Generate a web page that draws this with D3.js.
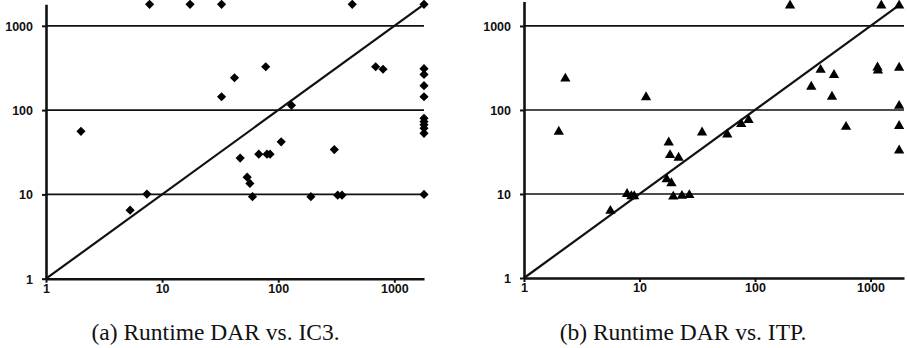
<!DOCTYPE html>
<html>
<head>
<meta charset="utf-8">
<script src="https://cdn.jsdelivr.net/npm/d3@7"></script>
<style>
  body { margin: 0; background: #fff; }
  .tick text { font-family: "Liberation Sans", Arial, sans-serif; font-weight: bold; font-size: 12.5px; }
  .caption { font-family: "Liberation Serif", "Times New Roman", serif; font-size: 23.5px; }
</style>
</head>
<body>
<svg id="chart" width="907" height="348"></svg>
<script>
// runtime pairs [DAR, other tool] in seconds
var ic3Points = [
  [2, 56], [5.3, 6.5], [7.4, 10.1], [7.8, 1800], [17.4, 1800], [32.5, 1800],
  [32.5, 144], [42, 242], [47, 27], [54, 16], [57, 13.5], [60, 9.4],
  [68, 30], [80, 30], [85, 30], [78, 327], [106, 42], [130, 114],
  [191, 9.4], [304, 34], [325, 9.8], [354, 9.8], [434, 1800], [690, 327],
  [799, 305], [1800, 1800], [1800, 310], [1800, 265], [1800, 195], [1800, 144],
  [1800, 80], [1800, 73], [1800, 67], [1800, 61], [1800, 53], [1800, 10]
];
var itpPoints = [
  [2, 55], [2.28, 236], [5.6, 6.3], [7.8, 10], [8.5, 9.4], [9, 9.4],
  [11.4, 142], [17.2, 15], [17.9, 41], [18.4, 29], [18.9, 13.4], [19.6, 9.3],
  [21.8, 27], [23.3, 9.5], [27, 9.7], [34.8, 54], [57.5, 51], [76, 68],
  [88, 76], [201, 1750], [307, 189], [370, 300], [464, 144], [483, 261],
  [614, 63], [1150, 320], [1160, 295], [1240, 1750], [1770, 1750], [1770, 319],
  [1770, 112], [1770, 64.5], [1770, 33]
];
var tickValues = [1, 10, 100, 1000];
var gridValues = [10, 100, 1000];
var captions = ["(a) Runtime DAR vs. IC3.", "(b) Runtime DAR vs. ITP."];

var svg = d3.select("#chart");

function drawPanel(opts) {
    var x = d3.scaleLog().domain([1, opts.max]).range([opts.left, opts.right]);
    var y = d3.scaleLog().domain([1, opts.max]).range([opts.bottom, opts.top]);
    var g = svg.append("g");

    // horizontal grid lines
    g.append("g")
        .selectAll("line")
        .data(gridValues)
        .join("line")
        .attr("x1", x(1))
        .attr("x2", opts.right)
        .attr("y1", d => y(d))
        .attr("y2", d => y(d))
        .attr("stroke", "#111")
        .attr("stroke-width", 1.7);

    // diagonal y = x
    g.append("line")
        .attr("x1", x(1))
        .attr("y1", y(1))
        .attr("x2", x(opts.diag))
        .attr("y2", y(opts.diag))
        .attr("stroke", "#111")
        .attr("stroke-width", 2.2);

    var xAxis = g.append("g")
        .attr("transform", `translate(0,${opts.bottom})`)
        .call(d3.axisBottom(x).tickValues(tickValues).tickFormat(d3.format("d"))
            .tickSize(4).tickSizeOuter(0).tickPadding(4));
    var yAxis = g.append("g")
        .attr("transform", `translate(${opts.left},0)`)
        .call(d3.axisLeft(y).tickValues(tickValues).tickFormat(d3.format("d"))
            .tickSize(4).tickSizeOuter(0).tickPadding(9));

    [xAxis, yAxis].forEach(a => {
        a.select(".domain").attr("stroke", "#111").attr("stroke-width", 2.6);
        a.selectAll(".tick line").attr("stroke", "#111").attr("stroke-width", 2);
        a.selectAll(".tick text").attr("fill", "#111");
    });
    xAxis.selectAll(".tick text").attr("dy", "0.5em");
    yAxis.selectAll(".tick text").attr("dy", "0.35em");

    var sym = d3.symbol().type(opts.symbol).size(opts.size);
    g.append("g")
        .selectAll("path")
        .data(opts.data)
        .join("path")
        .attr("d", sym)
        .attr("transform", d => `translate(${x(d[0])},${y(d[1])}) rotate(${opts.rotate})`)
        .attr("fill", "#000");

    svg.append("text")
        .attr("class", "caption")
        .attr("x", opts.captionX)
        .attr("y", 340)
        .attr("text-anchor", "middle")
        .attr("fill", "#111")
        .text(opts.caption);
}

drawPanel({
    data: ic3Points, max: 1800, diag: 1800,
    left: 46, right: 424, top: 4.3, bottom: 278.7,
    symbol: d3.symbolSquare, size: 42, rotate: 45,
    caption: captions[0], captionX: 215.5
});

drawPanel({
    data: itpPoints, max: 1950, diag: 1700,
    left: 524, right: 904, top: 1.6, bottom: 278,
    symbol: d3.symbolTriangle, size: 46, rotate: 0,
    caption: captions[1], captionX: 683
});
</script>
</body>
</html>
